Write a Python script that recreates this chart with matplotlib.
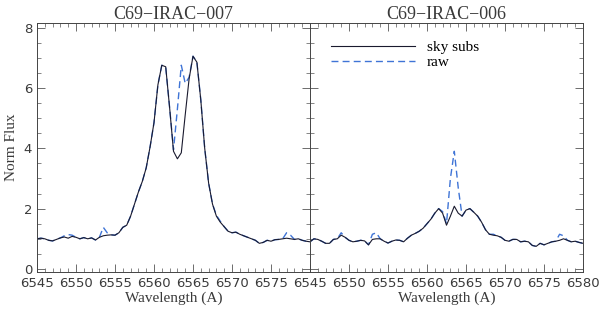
import numpy as np
import matplotlib
matplotlib.use("Agg")
import matplotlib.pyplot as plt
from matplotlib.ticker import MultipleLocator

# wavelength grid (A), 0.5 A steps
wave = np.arange(6545.0, 6580.5, 0.5)

titles = ["C69\u2212IRAC\u2212007", "C69\u2212IRAC\u2212006"]

# C69-IRAC-007
sky007 = [1.00, 1.02, 1.00, 0.95, 0.93, 0.98, 1.03, 1.06, 1.02, 1.08,
          1.05, 1.00, 1.04, 1.00, 1.03, 0.96, 1.05, 1.10, 1.12, 1.13,
          1.12, 1.20, 1.38, 1.45, 1.75, 2.15, 2.55, 2.90, 3.35, 4.05,
          4.85, 6.10, 6.75, 6.70, 5.35, 3.90, 3.65, 3.85, 5.10, 6.30,
          7.05, 6.85, 5.60, 4.00, 2.85, 2.15, 1.75, 1.55, 1.40, 1.25,
          1.20, 1.22, 1.15, 1.10, 1.05, 1.00, 0.95, 0.85, 0.88, 0.95,
          0.92, 0.97, 0.98, 1.00, 1.02, 1.00, 0.98, 1.00, 0.95, 0.92,
          0.90]
raw007 = [1.00, 1.02, 1.00, 0.95, 0.93, 0.98, 1.03, 1.10, 1.14, 1.12,
          1.05, 1.00, 1.04, 1.00, 1.03, 0.96, 1.05, 1.38, 1.20, 1.13,
          1.12, 1.20, 1.38, 1.45, 1.75, 2.15, 2.55, 2.90, 3.35, 4.05,
          4.85, 6.10, 6.75, 6.70, 5.35, 3.95, 5.30, 6.75, 6.15, 6.35,
          7.05, 6.85, 5.60, 4.00, 2.85, 2.15, 1.78, 1.58, 1.40, 1.25,
          1.20, 1.22, 1.15, 1.10, 1.05, 1.00, 0.95, 0.85, 0.88, 0.95,
          0.92, 0.97, 0.98, 1.00, 1.20, 1.12, 0.98, 1.00, 0.95, 0.92,
          0.90]

# C69-IRAC-006
sky006 = [0.90, 1.00, 0.98, 0.92, 0.85, 0.85, 0.98, 1.00, 1.12, 1.05,
          0.95, 0.90, 0.92, 0.95, 0.93, 0.80, 0.98, 1.00, 1.00, 0.92,
          0.86, 0.92, 0.96, 0.95, 0.90, 1.02, 1.12, 1.18, 1.25, 1.35,
          1.50, 1.65, 1.85, 2.00, 1.85, 1.45, 1.75, 2.08, 1.85, 1.75,
          1.95, 2.00, 1.88, 1.75, 1.55, 1.30, 1.15, 1.12, 1.10, 1.05,
          0.95, 0.92, 0.98, 0.98, 0.90, 0.92, 0.90, 0.78, 0.75, 0.85,
          0.80, 0.85, 0.90, 0.92, 0.95, 1.00, 0.95, 0.90, 0.92, 0.88,
          0.85]
raw006 = [0.90, 1.00, 0.98, 0.92, 0.85, 0.85, 0.98, 1.00, 1.20, 1.05,
          0.95, 0.90, 0.92, 0.95, 0.93, 0.80, 1.15, 1.20, 1.00, 0.92,
          0.86, 0.92, 0.96, 0.95, 0.90, 1.02, 1.12, 1.18, 1.25, 1.35,
          1.50, 1.65, 1.85, 2.00, 1.90, 1.50, 3.00, 3.90, 2.70, 1.75,
          1.95, 2.00, 1.88, 1.75, 1.55, 1.30, 1.15, 1.15, 1.10, 1.05,
          0.95, 0.92, 0.98, 0.98, 0.90, 0.92, 0.90, 0.78, 0.75, 0.85,
          0.80, 0.85, 0.90, 0.92, 1.15, 1.10, 0.95, 0.90, 0.92, 0.88,
          0.85]

xticks = [6545, 6550, 6555, 6560, 6565, 6570, 6575, 6580]
yticks = [0, 2, 4, 6, 8]

txt = '#3a3a3a'
serif = ['Liberation Serif', 'DejaVu Serif']

fig = plt.figure(figsize=(6, 3.12), dpi=100)
ax1 = fig.add_axes([37/600, 1-272/312, 273/600, 249/312])
ax2 = fig.add_axes([310/600, 1-272/312, 273/600, 249/312])

for ax, t, sky, raw in [(ax1, titles[0], sky007, raw007), (ax2, titles[1], sky006, raw006)]:
    ax.plot(wave, raw, color='#3f74d6', linestyle=(0, (5, 3)), linewidth=1.0, label='raw')
    ax.plot(wave, sky, color='#1a1a2e', linestyle='-', linewidth=0.8, label='sky subs')
    ax.set_xlim(6545, 6580)
    ax.set_ylim(-0.1, 8.15)
    ax.set_xticks(xticks)
    ax.set_yticks(yticks)
    ax.xaxis.set_minor_locator(MultipleLocator(1))
    ax.yaxis.set_minor_locator(MultipleLocator(0.5))
    ax.tick_params(which='both', direction='in', top=True, right=True, colors='#555555',
                   labelcolor=txt, labelsize=9.5)
    ax.tick_params(which='major', length=6, width=0.6)
    ax.tick_params(which='minor', length=3, width=0.5)
    for s in ax.spines.values():
        s.set_linewidth(0.7)
        s.set_color('#444444')
    ax.set_title(t, fontsize=13, color=txt, family=serif, pad=3)
    ax.set_xlabel("Wavelength (A)", fontsize=11, color=txt, family=serif, labelpad=1)

# left panel: last label is hidden under the right panel's first
ax1.set_xticklabels([str(v) for v in xticks[:-1]] + [''])
ax1.set_ylabel("Norm Flux", fontsize=11, color=txt, family=serif, labelpad=4)
ax2.set_yticklabels([])

h, l = ax2.get_legend_handles_labels()
ax2.legend([h[1], h[0]], [l[1], l[0]], loc='upper left', frameon=False, handlelength=5.5,
           prop={'family': serif, 'size': 11}, labelspacing=0.05, borderaxespad=0.6,
           bbox_to_anchor=(0.02, 0.99))

fig.savefig('out.png', dpi=100)
